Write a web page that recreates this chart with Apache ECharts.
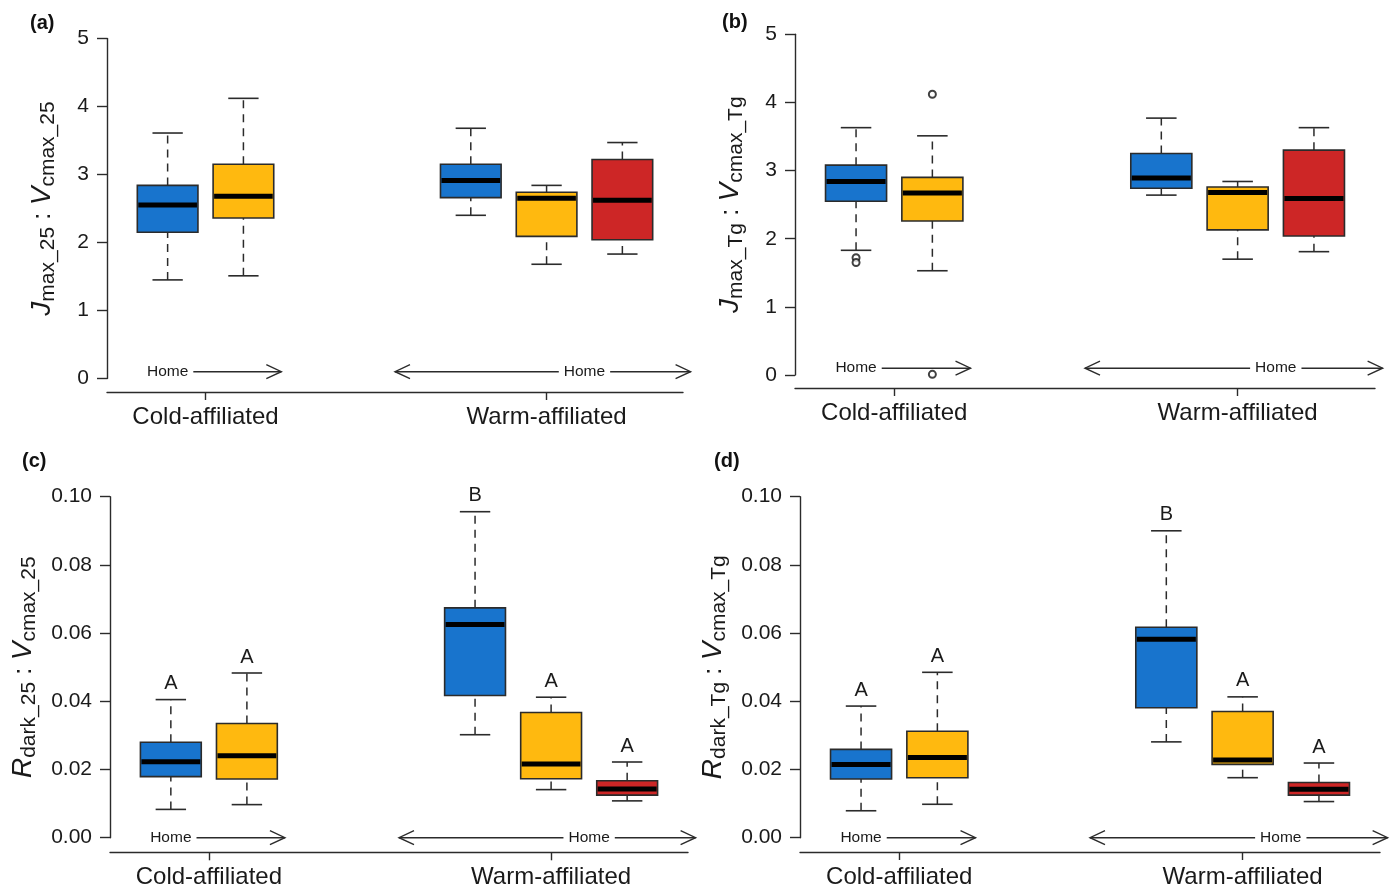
<!DOCTYPE html>
<html>
<head>
<meta charset="utf-8">
<script src="https://cdn.jsdelivr.net/npm/echarts@6/dist/echarts.min.js"></script>
<style>
  html, body { margin: 0; padding: 0; background: #fff; }
  #chart { width: 1392px; height: 893px; }
</style>
</head>
<body>
<div id="chart"></div>
<script>
// box positions on the x axis: two cold-affiliated, three warm-affiliated
const positions = [1, 2, 5, 6, 7]
const boxColors = ["#1874CD", "#FFB90F", "#1874CD", "#FFB90F", "#CD2626"]
const groupTicks = [1.5, 6]
const groupLabels = ["Cold-affiliated", "Warm-affiliated"]

// each box: [lower whisker, Q1, median, Q3, upper whisker]
const jmaxVcmax25 = [
  [1.45, 2.15, 2.55, 2.84, 3.61],
  [1.51, 2.36, 2.68, 3.15, 4.12],
  [2.40, 2.66, 2.91, 3.15, 3.68],
  [1.68, 2.09, 2.65, 2.74, 2.84],
  [1.83, 2.04, 2.62, 3.22, 3.47],
]
const jmaxVcmaxTg = [
  [1.83, 2.55, 2.84, 3.08, 3.63],
  [1.53, 2.26, 2.67, 2.90, 3.51],
  [2.64, 2.74, 2.89, 3.25, 3.77],
  [1.70, 2.13, 2.68, 2.76, 2.84],
  [1.81, 2.04, 2.59, 3.30, 3.63],
]
const jmaxVcmaxTgOutliers = [[1, 1.72], [1, 1.65], [2, 4.12], [2, 0.01]]
const rdarkVcmax25 = [
  [0.0083, 0.0179, 0.0223, 0.0280, 0.0405],
  [0.0097, 0.0172, 0.0240, 0.0335, 0.0483],
  [0.0302, 0.0417, 0.0625, 0.0674, 0.0956],
  [0.0141, 0.0173, 0.0216, 0.0367, 0.0412],
  [0.0108, 0.0125, 0.0143, 0.0167, 0.0222],
]
const rdarkVcmaxTg = [
  [0.0079, 0.0172, 0.0215, 0.0259, 0.0386],
  [0.0098, 0.0176, 0.0235, 0.0312, 0.0485],
  [0.0281, 0.0381, 0.0582, 0.0617, 0.0900],
  [0.0176, 0.0215, 0.0228, 0.0370, 0.0413],
  [0.0106, 0.0125, 0.0142, 0.0162, 0.0219],
]
const lettersC = ["A", "A", "B", "A", "A"]
const lettersD = ["A", "A", "B", "A", "A"]

// "Home" arrows: [start, end, label at, double headed]
const homeArrows = [
  [1, 2.5, 1, 0],
  [4, 7.9, 6.5, 1],
]

const FONT = "Liberation Sans, Arial, sans-serif"
const INK = "#1a1a1a"
const LINE = "#2b2b2b"

const panels = [
  { tag: "(a)", tagPos: [30, 13], left: 107, top: 38.5, width: 576, height: 340, offset: 13.5,
    yMax: 5, yStep: 1, digits: 0, nameGap: 48, homeY: 0.1,
    name: "{i|J}{s|max_25}{n| : }{i|V}{s|cmax_25}", stats: jmaxVcmax25, letters: null },
  { tag: "(b)", tagPos: [722, 12], left: 795, top: 34.3, width: 580, height: 340.7, offset: 13,
    yMax: 5, yStep: 1, digits: 0, nameGap: 48, homeY: 0.1,
    name: "{i|J}{s|max_Tg}{n| : }{i|V}{s|cmax_Tg}", stats: jmaxVcmaxTg, letters: null },
  { tag: "(c)", tagPos: [22, 451], left: 110, top: 496.7, width: 578, height: 341, offset: 14.6,
    yMax: 0.1, yStep: 0.02, digits: 2, nameGap: 70, homeY: 0,
    name: "{i|R}{s|dark_25}{n| : }{i|V}{s|cmax_25}", stats: rdarkVcmax25, letters: lettersC },
  { tag: "(d)", tagPos: [714, 451], left: 800, top: 496.7, width: 580, height: 341, offset: 14.3,
    yMax: 0.1, yStep: 0.02, digits: 2, nameGap: 70, homeY: 0,
    name: "{i|R}{s|dark_Tg}{n| : }{i|V}{s|cmax_Tg}", stats: rdarkVcmaxTg, letters: lettersD },
]

function boxSeries(gi, stats, letters) {
  return {
    type: "custom",
    xAxisIndex: gi,
    yAxisIndex: gi,
    z: 3,
    data: stats.map((s, i) => [positions[i], ...s]),
    encode: { x: 0, y: [1, 2, 3, 4, 5] },
    renderItem: (params, api) => {
      const x = api.value(0)
      const lo = api.coord([x, api.value(1)])
      const q1 = api.coord([x, api.value(2)])
      const md = api.coord([x, api.value(3)])
      const q3 = api.coord([x, api.value(4)])
      const hi = api.coord([x, api.value(5)])
      const w = api.size([0.8, 0])[0]
      const cx = lo[0]
      const dash = { stroke: LINE, lineWidth: 1.5, lineDash: [8, 6] }
      const solid = { stroke: LINE, lineWidth: 1.6 }
      const children = [
        { type: "line", shape: { x1: cx, y1: lo[1], x2: cx, y2: q1[1] }, style: dash },
        { type: "line", shape: { x1: cx, y1: q3[1], x2: cx, y2: hi[1] }, style: dash },
        { type: "line", shape: { x1: cx - w / 4, y1: lo[1], x2: cx + w / 4, y2: lo[1] }, style: solid },
        { type: "line", shape: { x1: cx - w / 4, y1: hi[1], x2: cx + w / 4, y2: hi[1] }, style: solid },
        { type: "rect", shape: { x: cx - w / 2, y: q3[1], width: w, height: q1[1] - q3[1] },
          style: { fill: boxColors[params.dataIndex], stroke: LINE, lineWidth: 1.6 } },
        { type: "line", shape: { x1: cx - w / 2 + 1, y1: md[1], x2: cx + w / 2 - 1, y2: md[1] },
          style: { stroke: "#000", lineWidth: 5 } },
      ]
      if (letters) {
        children.push({
          type: "text", x: cx, y: hi[1] - 6,
          style: { text: letters[params.dataIndex], fill: INK, fontSize: 20, fontFamily: FONT,
                   align: "center", verticalAlign: "bottom" },
        })
      }
      return { type: "group", children }
    },
  }
}

function homeSeries(gi, homeY) {
  return {
    type: "custom",
    xAxisIndex: gi,
    yAxisIndex: gi,
    z: 2,
    clip: false,
    data: homeArrows,
    encode: { x: [0, 1, 2] },
    renderItem: (params, api) => {
      const a = api.coord([api.value(0), homeY])
      const b = api.coord([api.value(1), homeY])
      const t = api.coord([api.value(2), homeY])
      const st = { stroke: LINE, lineWidth: 1.4, fill: null }
      const children = [
        { type: "line", shape: { x1: a[0], y1: a[1], x2: b[0], y2: b[1] }, style: st },
        { type: "polyline", shape: { points: [[b[0] - 15, b[1] - 7], [b[0], b[1]], [b[0] - 15, b[1] + 7]] }, style: st },
      ]
      if (api.value(3)) {
        children.push({ type: "polyline", shape: { points: [[a[0] + 15, a[1] - 7], [a[0], a[1]], [a[0] + 15, a[1] + 7]] }, style: st })
      }
      children.push({
        type: "text", x: t[0], y: t[1],
        style: { text: "Home", fill: INK, fontSize: 15.5, fontFamily: FONT, align: "center",
                 verticalAlign: "middle", backgroundColor: "#fff", padding: [2, 5] },
      })
      return { type: "group", children }
    },
  }
}

const chartDom = document.getElementById("chart")
const myChart = echarts.init(chartDom, null, { renderer: "canvas" })

const grid = [], xAxis = [], yAxis = [], series = [], title = []
panels.forEach((p, gi) => {
  grid.push({ left: p.left, top: p.top, width: p.width, height: p.height, containLabel: false, outerBoundsMode: "none" })
  title.push({ text: p.tag, left: p.tagPos[0], top: p.tagPos[1], padding: 0,
               textStyle: { fontSize: 20, fontWeight: "bold", color: "#111", fontFamily: FONT } })
  xAxis.push({
    gridIndex: gi, type: "value", min: 0.2, max: 7.8, offset: p.offset,
    axisLine: { show: true, onZero: false, lineStyle: { color: LINE, width: 1.4 } },
    axisTick: { show: true, length: 8, customValues: groupTicks, lineStyle: { color: LINE, width: 1.4 } },
    axisLabel: { customValues: groupTicks, formatter: (v) => groupLabels[groupTicks.indexOf(v)],
                 fontSize: 24, margin: 13, color: INK, fontFamily: FONT },
    splitLine: { show: false },
  })
  yAxis.push({
    gridIndex: gi, type: "value", min: 0, max: p.yMax, interval: p.yStep,
    axisLine: { show: true, onZero: false, lineStyle: { color: LINE, width: 1.4 } },
    axisTick: { show: true, length: 10, lineStyle: { color: LINE, width: 1.4 } },
    axisLabel: { fontSize: 21, margin: 18, color: INK, fontFamily: FONT,
                 formatter: (v) => v.toFixed(p.digits) },
    splitLine: { show: false },
    name: p.name, nameLocation: "middle", nameGap: p.nameGap,
    nameTextStyle: {
      color: INK, fontFamily: FONT,
      rich: {
        i: { fontStyle: "italic", fontSize: 28, fontFamily: FONT, color: INK },
        s: { fontSize: 21, fontFamily: FONT, color: INK, padding: [12, 0, 0, 0] },
        n: { fontSize: 26, fontFamily: FONT, color: INK },
      },
    },
  })
  series.push(homeSeries(gi, p.homeY))
  series.push(boxSeries(gi, p.stats, p.letters))
  if (gi === 1) {
    series.push({
      type: "scatter", xAxisIndex: 1, yAxisIndex: 1, z: 4,
      data: jmaxVcmaxTgOutliers, symbol: "emptyCircle", symbolSize: 7,
      itemStyle: { color: "#111", borderColor: "#111", borderWidth: 1.5 },
    })
  }
})

myChart.setOption({
  animation: false,
  backgroundColor: "#fff",
  title, grid, xAxis, yAxis, series,
})
</script>
</body>
</html>
